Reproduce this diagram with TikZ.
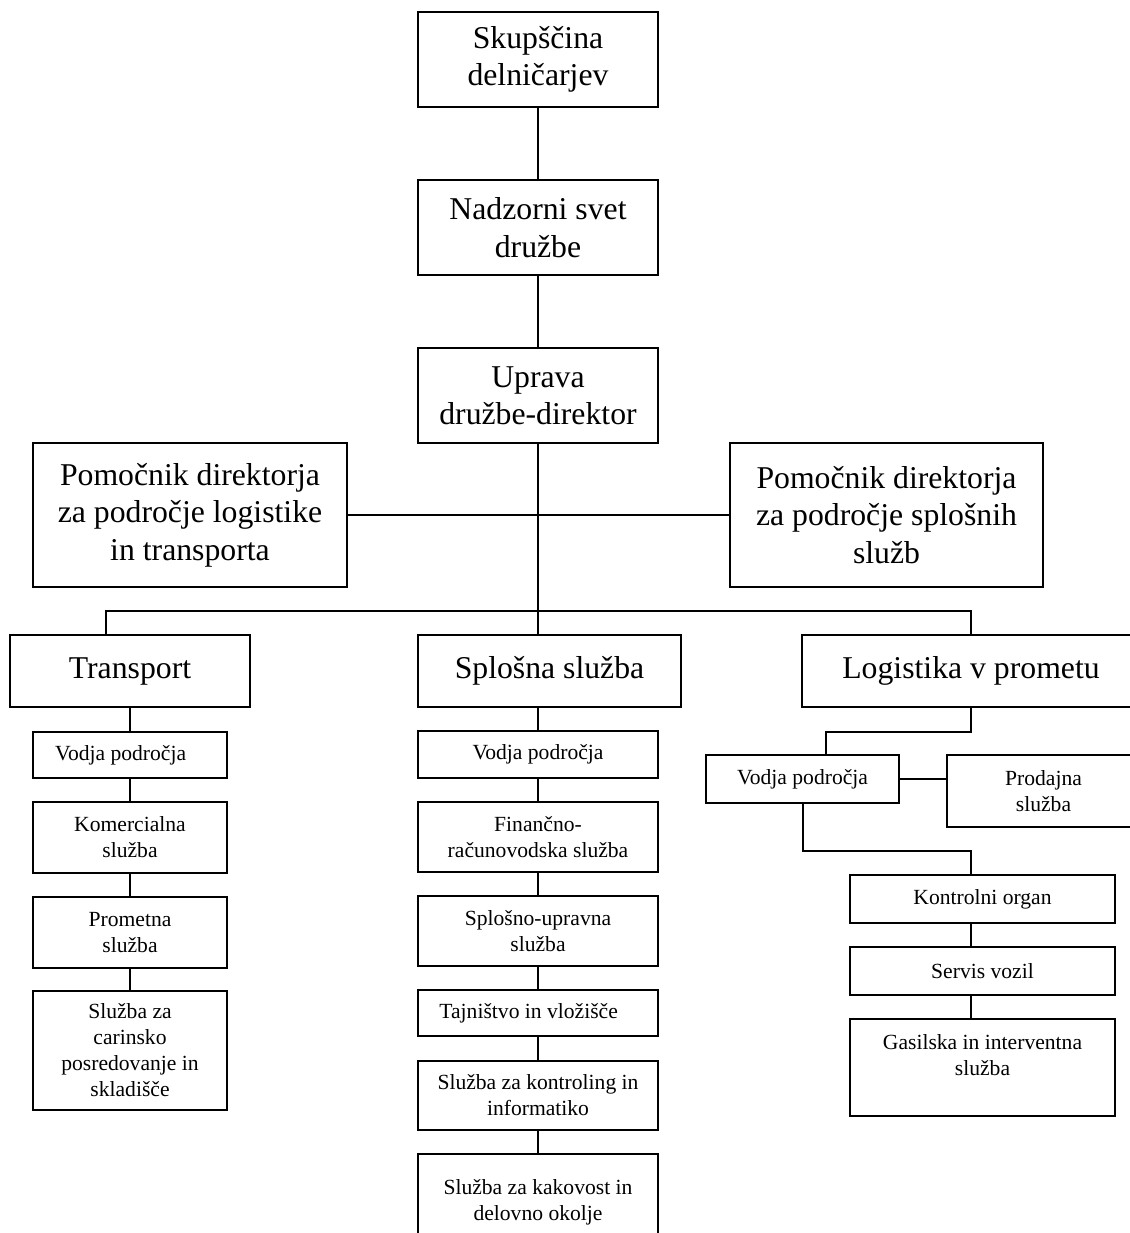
\documentclass[tikz,border=0pt]{standalone}
\usepackage{fontspec}
\setmainfont{Liberation Serif}
\tikzset{
  bx/.style={draw, line width=1.5pt, inner sep=0pt, align=center, rectangle},
  big/.style={bx, font=\fontsize{23.8}{28}\selectfont},
  sml/.style={bx, font=\fontsize{16.2}{19.5}\selectfont},
  ln/.style={line width=1.5pt},
}
\newcommand{\orgbox}[7]{\node[#1, minimum width={(#5-#3)*0.75pt}, minimum height={(#6-#4)*0.75pt}] (#2) at ({(#3+#5)/2},{(#4+#6)/2}) {#7};}
\begin{document}
\begin{tikzpicture}[x=0.75pt,y=-0.75pt]
\useasboundingbox (0,0) rectangle (1130,1233);
\clip (0,0) rectangle (1130,1233);
% top levels
\orgbox{big}{sk}{418}{12}{658}{107}{Skupščina\\delničarjev}
\orgbox{big}{nd}{418}{180}{658}{275}{Nadzorni svet\\družbe}
\orgbox{big}{up}{418}{348}{658}{443}{Uprava\\družbe-direktor}
\orgbox{big}{pl}{33}{443}{347}{587}{Pomočnik direktorja\\za področje logistike\\in transporta}
\orgbox{big}{pr}{730}{443}{1043}{587}{Pomočnik direktorja\\za področje splošnih\\služb}
\orgbox{big}{tr}{10}{635}{250}{707}{Transport}
\orgbox{big}{sp}{418}{635}{681}{707}{Splošna služba}
\orgbox{big}{lg}{802}{635}{1140}{707}{Logistika v prometu}
% transport column
\orgbox{sml}{tv}{33}{732}{227}{778}{Vodja področja\hspace*{14pt}}
\orgbox{sml}{tk}{33}{802}{227}{873}{Komercialna\\služba}
\orgbox{sml}{tp}{33}{897}{227}{968}{Prometna\\služba}
\orgbox{sml}{tc}{33}{991}{227}{1110}{Služba za\\carinsko\\posredovanje in\\skladišče}
% splosna column
\orgbox{sml}{sv}{418}{731}{658}{778}{Vodja področja}
\orgbox{sml}{sf}{418}{802}{658}{872}{Finančno-\\računovodska služba}
\orgbox{sml}{su}{418}{896}{658}{966}{Splošno-upravna\\služba}
\orgbox{sml}{st}{418}{990}{658}{1036}{Tajništvo in vložišče\hspace*{14pt}}
\orgbox{sml}{sk2}{418}{1061}{658}{1130}{Služba za kontroling in\\informatiko}
\orgbox{sml}{sq}{418}{1154}{658}{1250}{Služba za kakovost in\\delovno okolje}
% logistika column
\orgbox{sml}{lv}{706}{755}{899}{803}{Vodja področja}
\orgbox{sml}{lp}{947}{755}{1140}{827}{Prodajna\\služba}
\orgbox{sml}{lk}{850}{875}{1115}{923}{Kontrolni organ}
\orgbox{sml}{ls}{850}{947}{1115}{995}{Servis vozil}
\orgbox{sml}{lgs}{850}{1019}{1115}{1116}{Gasilska in interventna\\služba\\\mbox{}}
% connectors
\draw[ln] (sk.south) -- (nd.north);
\draw[ln] (nd.south) -- (up.north);
\draw[ln] (up.south) -- (sp.north -| up.south);
\draw[ln] (pl.east) -- (pr.west);
\coordinate (bL) at (106,611);
\coordinate (bR) at (971,611);
\draw[ln] (tr.north -| bL) -- (bL) -- (bR) -- (lg.north -| bR);
\draw[ln] (tr.south) -- (tv.north);
\draw[ln] (tv.south) -- (tk.north);
\draw[ln] (tk.south) -- (tp.north);
\draw[ln] (tp.south) -- (tc.north);
\draw[ln] (sv.north |- sp.south) -- (sv.north);
\draw[ln] (sv.south) -- (sf.north);
\draw[ln] (sf.south) -- (su.north);
\draw[ln] (su.south) -- (st.north);
\draw[ln] (st.south) -- (sk2.north);
\draw[ln] (sk2.south) -- (sq.north);
\coordinate (l1) at (971,732);
\coordinate (l2) at (826,732);
\coordinate (l3) at (802.5,851);
\coordinate (l4) at (971,851);
\draw[ln] (lg.south -| l1) -- (l1) -- (l2) -- (lv.north -| l2);
\draw[ln] (lv.east) -- (lv.east -| lp.west);
\draw[ln] (lv.south) -- (lv.south |- l3) -- (l4) -- (lk.north -| l4);
\draw[ln] (lk.south -| l4) -- (ls.north -| l4);
\draw[ln] (ls.south -| l4) -- (lgs.north -| l4);
\end{tikzpicture}
\end{document}
